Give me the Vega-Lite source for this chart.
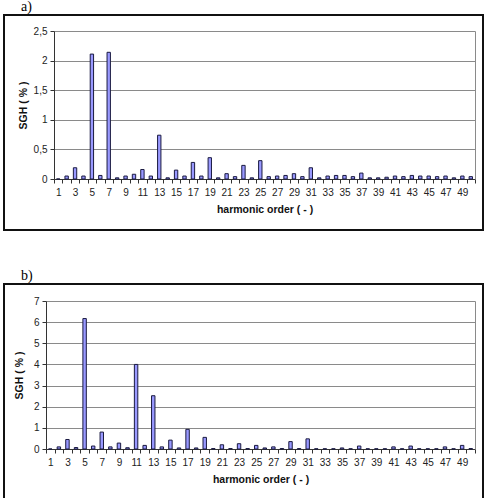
{
  "$schema": "https://vega.github.io/schema/vega-lite/v6.json",
  "padding": {"left": 3, "top": -1, "right": 0, "bottom": 0},
  "background": "white",
  "spacing": 37,
  "config": {
    "view": {"stroke": "#111", "strokeWidth": 2},
    "font": "Liberation Sans",
    "axis": {
      "labelFont": "Liberation Sans", "labelFontSize": 10, "labelColor": "#222",
      "titleFont": "Liberation Sans", "titleFontSize": 10.5, "titleFontWeight": "bold", "titleColor": "#111",
      "domainColor": "#333", "tickColor": "#333", "tickSize": 4, "gridColor": "#8a8a8a", "gridOpacity": 1
    },
    "title": {"font": "Liberation Serif", "fontSize": 14, "fontWeight": "normal", "anchor": "start", "offset": 1, "color": "#000"}
  },
  "datasets": {
    "a": [
      {"h":1,"v":0},{"h":2,"v":0.05},{"h":3,"v":0.19},{"h":4,"v":0.05},{"h":5,"v":2.11},
      {"h":6,"v":0.06},{"h":7,"v":2.14},{"h":8,"v":0.02},{"h":9,"v":0.05},{"h":10,"v":0.08},
      {"h":11,"v":0.16},{"h":12,"v":0.05},{"h":13,"v":0.74},{"h":14,"v":0.02},{"h":15,"v":0.15},
      {"h":16,"v":0.05},{"h":17,"v":0.28},{"h":18,"v":0.05},{"h":19,"v":0.36},{"h":20,"v":0.02},
      {"h":21,"v":0.09},{"h":22,"v":0.04},{"h":23,"v":0.23},{"h":24,"v":0.02},{"h":25,"v":0.31},
      {"h":26,"v":0.04},{"h":27,"v":0.05},{"h":28,"v":0.06},{"h":29,"v":0.09},{"h":30,"v":0.04},
      {"h":31,"v":0.19},{"h":32,"v":0.02},{"h":33,"v":0.05},{"h":34,"v":0.06},{"h":35,"v":0.06},
      {"h":36,"v":0.04},{"h":37,"v":0.10},{"h":38,"v":0.02},{"h":39,"v":0.02},{"h":40,"v":0.03},
      {"h":41,"v":0.05},{"h":42,"v":0.04},{"h":43,"v":0.06},{"h":44,"v":0.05},{"h":45,"v":0.05},
      {"h":46,"v":0.04},{"h":47,"v":0.05},{"h":48,"v":0.02},{"h":49,"v":0.05},{"h":50,"v":0.04}
    ],
    "b": [
      {"h":1,"v":0},{"h":2,"v":0.10},{"h":3,"v":0.45},{"h":4,"v":0.07},{"h":5,"v":6.17},
      {"h":6,"v":0.14},{"h":7,"v":0.80},{"h":8,"v":0.10},{"h":9,"v":0.28},{"h":10,"v":0.06},
      {"h":11,"v":4.0},{"h":12,"v":0.17},{"h":13,"v":2.52},{"h":14,"v":0.10},{"h":15,"v":0.42},
      {"h":16,"v":0.05},{"h":17,"v":0.93},{"h":18,"v":0.05},{"h":19,"v":0.55},{"h":20,"v":0.02},
      {"h":21,"v":0.20},{"h":22,"v":0.02},{"h":23,"v":0.25},{"h":24,"v":0.02},{"h":25,"v":0.17},
      {"h":26,"v":0.05},{"h":27,"v":0.10},{"h":28,"v":0.02},{"h":29,"v":0.35},{"h":30,"v":0.02},
      {"h":31,"v":0.48},{"h":32,"v":0.01},{"h":33,"v":0.01},{"h":34,"v":0.01},{"h":35,"v":0.05},
      {"h":36,"v":0.01},{"h":37,"v":0.14},{"h":38,"v":0.01},{"h":39,"v":0.01},{"h":40,"v":0.01},
      {"h":41,"v":0.10},{"h":42,"v":0.01},{"h":43,"v":0.14},{"h":44,"v":0.01},{"h":45,"v":0.01},
      {"h":46,"v":0.01},{"h":47,"v":0.10},{"h":48,"v":0.01},{"h":49,"v":0.17},{"h":50,"v":0.02}
    ]
  },
  "vconcat": [
    {
      "title": {"text": "a)", "dx": 17},
      "width": 479,
      "height": 215,
      "data": {"name": "a"},
      "encoding": {
        "x": {
          "field": "h", "type": "ordinal",
          "scale": {"range": [50, 471], "paddingInner": 0, "paddingOuter": 0},
          "axis": {
            "title": "harmonic order ( - )", "offset": -51, "tickBand": "extent", "labelAngle": 0,
            "labelExpr": "datum.value % 2 == 1 ? datum.label : ''", "labelOverlap": false,
            "labelPadding": 4, "titlePadding": 7, "grid": false
          }
        }
      },
      "layer": [
        {
          "mark": {"type": "bar", "fill": "#9999ff", "stroke": "#1a1a40", "strokeWidth": 1, "width": {"band": 0.4}},
          "encoding": {
            "y": {
              "field": "v", "type": "quantitative",
              "scale": {"domain": [0, 2.5], "range": [164, 16], "nice": false},
              "axis": {
                "title": "SGH ( % )", "offset": -50, "values": [0, 0.5, 1, 1.5, 2, 2.5],
                "labelExpr": "replace(format(datum.value, '~g'), '.', ',')",
                "grid": true, "titlePadding": 5, "labelPadding": 3
              }
            }
          }
        },
        {
          "mark": {"type": "bar", "opacity": 0, "width": {"band": 0.4}},
          "encoding": {
            "y": {
              "field": "v", "type": "quantitative",
              "axis": {"orient": "right", "offset": -8, "labels": false, "ticks": false, "grid": false, "title": null, "domainColor": "#8a8a8a"}
            }
          }
        }
      ],
      "resolve": {"axis": {"y": "independent"}}
    },
    {
      "title": {"text": "b)", "dx": 17},
      "width": 479,
      "height": 215,
      "data": {"name": "b"},
      "encoding": {
        "x": {
          "field": "h", "type": "ordinal",
          "scale": {"range": [42, 471], "paddingInner": 0, "paddingOuter": 0},
          "axis": {
            "title": "harmonic order ( - )", "offset": -50, "tickBand": "extent", "labelAngle": 0,
            "labelExpr": "datum.value % 2 == 1 ? datum.label : ''", "labelOverlap": false,
            "labelPadding": 4, "titlePadding": 7, "grid": false
          }
        }
      },
      "layer": [
        {
          "mark": {"type": "bar", "fill": "#9999ff", "stroke": "#1a1a40", "strokeWidth": 1, "width": {"band": 0.4}},
          "encoding": {
            "y": {
              "field": "v", "type": "quantitative",
              "scale": {"domain": [0, 7], "range": [165, 17], "nice": false},
              "axis": {
                "title": "SGH ( % )", "offset": -42, "values": [0, 1, 2, 3, 4, 5, 6, 7],
                "grid": true, "titlePadding": 9, "labelPadding": 3
              }
            }
          }
        },
        {
          "mark": {"type": "bar", "opacity": 0, "width": {"band": 0.4}},
          "encoding": {
            "y": {
              "field": "v", "type": "quantitative",
              "axis": {"orient": "right", "offset": -8, "labels": false, "ticks": false, "grid": false, "title": null, "domainColor": "#8a8a8a"}
            }
          }
        }
      ],
      "resolve": {"axis": {"y": "independent"}}
    }
  ]
}
